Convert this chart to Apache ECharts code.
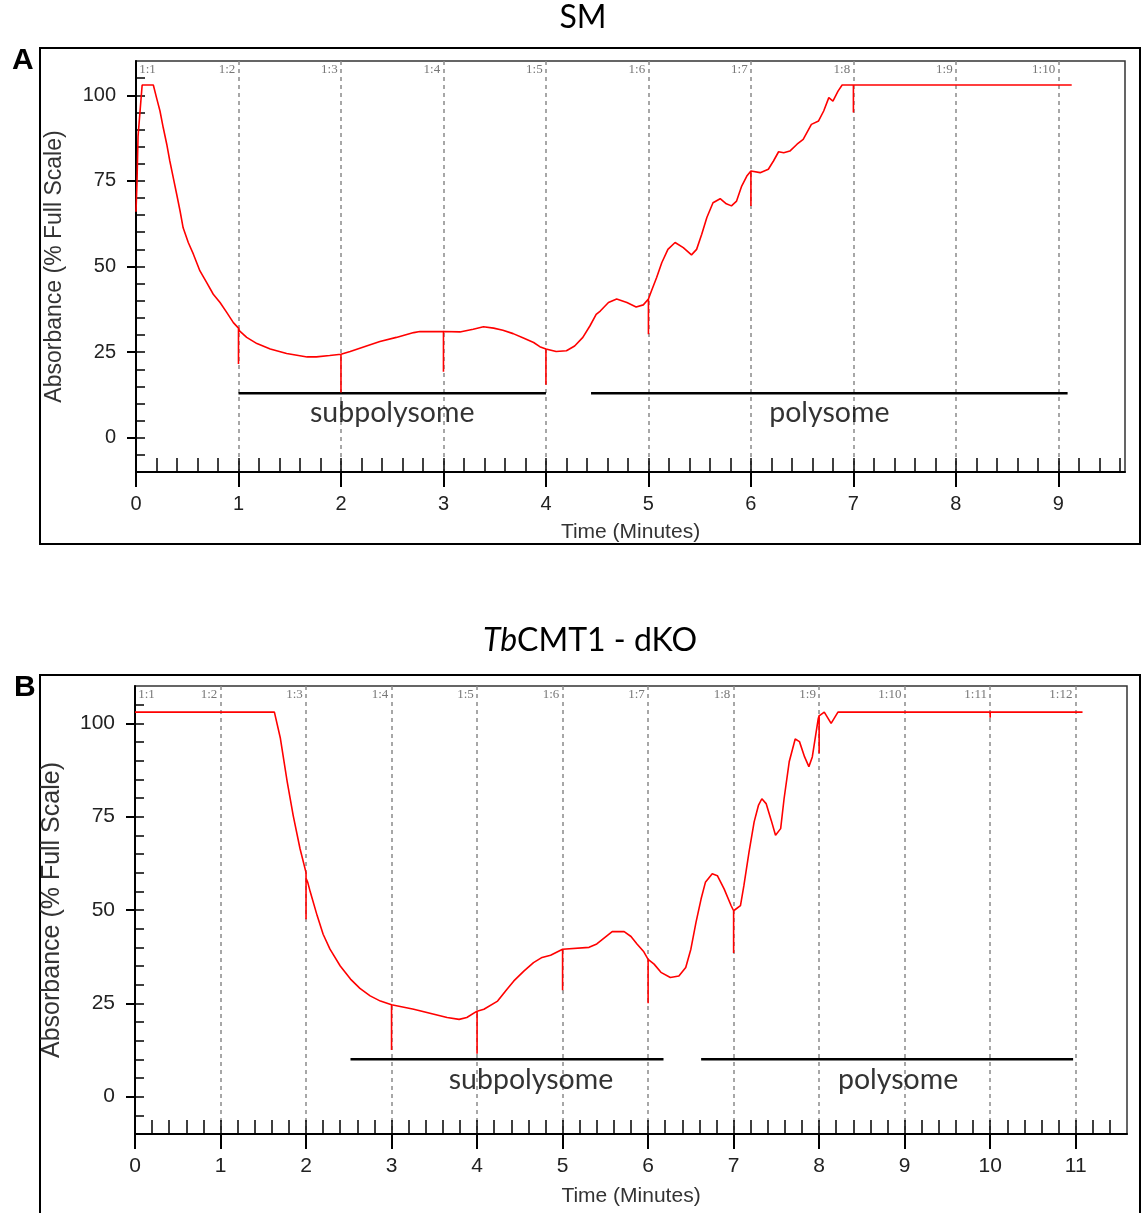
<!DOCTYPE html>
<html>
<head>
<meta charset="utf-8">
<title>Polysome profiles</title>
<script src="https://cdn.jsdelivr.net/npm/echarts@6/dist/echarts.min.js"></script>
<style>
  html, body { margin: 0; padding: 0; background: #fff; }
  #chart { width: 1143px; height: 1213px; }
</style>
</head>
<body>
<div id="chart"></div>
<script>
// Absorbance traces, [time (min), absorbance (% full scale)].
// Fraction-collector marks show up as short downward spikes at each fraction change.
const smTrace = [
  [0.00, 66], [0.01, 75], [0.02, 88], [0.04, 95.5], [0.06, 103], [0.169, 103],
  [0.20, 99.3], [0.234, 95.4], [0.266, 90.5], [0.30, 85.7], [0.33, 80.8], [0.364, 75.9],
  [0.397, 71.1], [0.43, 66.2], [0.46, 61.3], [0.51, 57.0], [0.56, 53.6], [0.624, 48.7],
  [0.69, 45.3], [0.754, 41.9], [0.82, 39.5], [0.885, 36.6], [0.95, 33.6], [1.00, 32.0],
  [1.00, 21.5], [1.00, 32.0], [1.01, 31.2], [1.08, 29.3], [1.18, 27.5], [1.31, 25.9],
  [1.47, 24.6], [1.67, 23.6], [1.76, 23.6], [1.89, 24.0], [2.00, 24.4], [2.00, 13.2],
  [2.00, 24.4], [2.09, 25.2], [2.22, 26.5], [2.38, 28.1], [2.54, 29.3], [2.71, 30.7],
  [2.77, 31.0], [3.00, 31.0], [3.00, 19.3], [3.00, 31.0], [3.16, 30.9], [3.29, 31.7],
  [3.39, 32.4], [3.49, 32.0], [3.58, 31.4], [3.68, 30.4], [3.78, 29.1], [3.88, 27.8],
  [3.94, 26.6], [4.00, 25.9], [4.00, 15.5], [4.00, 25.9], [4.10, 25.2], [4.20, 25.4],
  [4.28, 26.8], [4.36, 29.3], [4.43, 32.7], [4.49, 36.0], [4.53, 37.0], [4.61, 39.5],
  [4.69, 40.5], [4.79, 39.5], [4.88, 38.2], [4.95, 38.8], [5.00, 40.5], [5.00, 30.2],
  [5.00, 40.5], [5.03, 42.9], [5.08, 46.8], [5.13, 51.1], [5.19, 55.0], [5.26, 57.0],
  [5.34, 55.5], [5.42, 53.4], [5.47, 55.0], [5.52, 59.4], [5.57, 64.3], [5.63, 68.6],
  [5.70, 69.8], [5.76, 68.3], [5.81, 67.7], [5.86, 69.1], [5.91, 73.5], [5.96, 76.4],
  [6.00, 77.9], [6.00, 67.7], [6.00, 77.9], [6.09, 77.4], [6.17, 78.4], [6.22, 80.8],
  [6.27, 83.5], [6.32, 83.2], [6.38, 83.7], [6.45, 85.7], [6.51, 87.1], [6.59, 91.5],
  [6.66, 92.5], [6.71, 95.4], [6.76, 99.3], [6.80, 98.3], [6.85, 101.2], [6.89, 103],
  [7.00, 103], [7.00, 95.0], [7.00, 103], [9.13, 103]
];

const dkoTrace = [
  [0.00, 103], [1.63, 103], [1.70, 96.0], [1.78, 84.3], [1.85, 75.3], [1.93, 66.4],
  [2.00, 60.0], [2.00, 47.5], [2.00, 58.5], [2.02, 57.4], [2.05, 54.8], [2.13, 48.5],
  [2.20, 43.5], [2.28, 39.5], [2.40, 35.0], [2.52, 31.5], [2.63, 29.0], [2.75, 27.0],
  [2.87, 25.6], [3.00, 24.6], [3.00, 12.5], [3.00, 24.6], [3.26, 23.4], [3.46, 22.3],
  [3.65, 21.2], [3.79, 20.7], [3.88, 21.2], [4.00, 22.9], [4.00, 11.5], [4.00, 22.9],
  [4.08, 23.4], [4.24, 25.6], [4.35, 28.8], [4.43, 31.0], [4.55, 33.7], [4.66, 35.9],
  [4.76, 37.3], [4.86, 37.9], [5.00, 39.5], [5.00, 28.5], [5.00, 39.5], [5.02, 40.0],
  [5.31, 40.0], [5.40, 40.9], [5.58, 44.2], [5.72, 44.2], [5.80, 42.9], [5.87, 40.9],
  [5.95, 38.8], [6.00, 36.8], [6.00, 25.0], [6.00, 36.8], [6.07, 35.5], [6.15, 33.3],
  [6.26, 31.9], [6.36, 32.3], [6.44, 34.6], [6.50, 39.5], [6.56, 46.7], [6.62, 53.0],
  [6.67, 57.4], [6.75, 59.7], [6.81, 59.2], [6.89, 55.6], [6.97, 51.2], [7.00, 49.8],
  [7.00, 38.5], [7.00, 49.8], [7.08, 51.2], [7.12, 56.5], [7.18, 65.5], [7.24, 73.6],
  [7.29, 78.0], [7.33, 79.8], [7.38, 78.5], [7.44, 74.0], [7.49, 70.0], [7.55, 71.8],
  [7.59, 79.8], [7.65, 89.7], [7.72, 95.8], [7.77, 95.1], [7.83, 91.0], [7.88, 88.4],
  [7.92, 91.0], [7.96, 96.9], [7.99, 101.3], [8.00, 102], [8.00, 92.0], [8.00, 102],
  [8.06, 103], [8.14, 100], [8.22, 103], [10.00, 103], [10.00, 101.5], [10.00, 103],
  [11.08, 103]
];

// Axis ticks and labels
const smTimeTicks = [0, 1, 2, 3, 4, 5, 6, 7, 8, 9];
const dkoTimeTicks = [0, 1, 2, 3, 4, 5, 6, 7, 8, 9, 10, 11];
const absTicks = [0, 25, 50, 75, 100];
const smFractions = ['1:1', '1:2', '1:3', '1:4', '1:5', '1:6', '1:7', '1:8', '1:9', '1:10'];
const dkoFractions = ['1:1', '1:2', '1:3', '1:4', '1:5', '1:6', '1:7', '1:8', '1:9', '1:10', '1:11', '1:12'];

// Pooled fraction ranges (minutes) and the level of their bracket bars
const smRegions = [
  { name: 'subpolysome', from: 1.0, to: 4.0, level: 13 },
  { name: 'polysome', from: 4.44, to: 9.09, level: 13 }
];
const dkoRegions = [
  { name: 'subpolysome', from: 2.52, to: 6.18, level: 10 },
  { name: 'polysome', from: 6.62, to: 10.97, level: 10 }
];

// Minor tick positions: every 0.2 min on time, every 5 % on absorbance
function steps(from, to, step) {
  const out = [];
  const n = Math.round((to - from) / step);
  for (let i = 0; i <= n; i++) out.push(Math.round((from + i * step) * 1000) / 1000);
  return out;
}
const absMinorTicks = steps(-5, 105, 5);

const AXIS_FONT = '"Liberation Sans", Arial, sans-serif';
const TEXT_FONT = 'Lato, "Noto Sans", sans-serif';
const FRACTION_FONT = '"Liberation Serif", "DejaVu Serif", serif';

const panels = [
  {
    trace: smTrace, timeTicks: smTimeTicks, fractions: smFractions, regions: smRegions,
    xMax: 9.65, minorX: steps(0, 9.6, 0.2),
    grid: { left: 136, top: 61, right: 18, bottom: 741 },
    tickFont: 20, yNameFont: 23, xNameFont: 21, yNameGap: 70, xNameGap: 50,
    labelShift: [0, 0]
  },
  {
    trace: dkoTrace, timeTicks: dkoTimeTicks, fractions: dkoFractions, regions: dkoRegions,
    xMax: 11.6, minorX: steps(0, 11.4, 0.2),
    grid: { left: 135, top: 686, right: 16, bottom: 79 },
    tickFont: 21, yNameFont: 25, xNameFont: 21, yNameGap: 70, xNameGap: 52,
    labelShift: [24, 11]
  }
];

const option = {
  animation: false,
  backgroundColor: '#ffffff',
  title: [
    {
      text: 'SM', left: 583, top: 2, textAlign: 'center', padding: 0,
      textStyle: { fontFamily: TEXT_FONT, fontSize: 32, fontWeight: 'normal', color: '#000' }
    },
    {
      text: '{i|Tb}CMT1 - dKO', left: 590, top: 625, textAlign: 'center', padding: 0,
      textStyle: {
        fontFamily: TEXT_FONT, fontSize: 32, fontWeight: 'normal', color: '#000',
        rich: { i: { fontFamily: TEXT_FONT, fontSize: 32, fontStyle: 'italic', color: '#000' } }
      }
    }
  ],
  grid: [],
  xAxis: [],
  yAxis: [],
  series: [],
  graphic: [
    { type: 'rect', z: -1, shape: { x: 40, y: 48, width: 1100, height: 496 },
      style: { fill: 'none', stroke: '#000', lineWidth: 2 } },
    { type: 'rect', z: -1, shape: { x: 40, y: 675, width: 1100, height: 600 },
      style: { fill: 'none', stroke: '#000', lineWidth: 2 } },
    { type: 'text', x: 12, y: 61,
      style: { text: 'A', font: 'bold 30px "Liberation Sans", Arial, sans-serif', fill: '#000', textVerticalAlign: 'middle' } },
    { type: 'text', x: 14, y: 688,
      style: { text: 'B', font: 'bold 30px "Liberation Sans", Arial, sans-serif', fill: '#000', textVerticalAlign: 'middle' } }
  ]
};

panels.forEach((p, gi) => {
  option.grid.push(Object.assign({
    show: true, backgroundColor: '#ffffff', borderColor: '#333', borderWidth: 1.5
  }, p.grid));

  const xBase = option.xAxis.length;
  const yBase = option.yAxis.length;
  const xCommon = { type: 'value', gridIndex: gi, min: 0, max: p.xMax };
  const yCommon = { type: 'value', gridIndex: gi, min: -10, max: 110 };

  // time axis: line, major ticks, labels and dashed fraction grid
  option.xAxis.push(Object.assign({}, xCommon, {
    position: 'bottom', interval: 1,
    name: 'Time (Minutes)', nameLocation: 'middle', nameGap: p.xNameGap,
    nameTextStyle: { fontFamily: AXIS_FONT, fontSize: p.xNameFont, color: '#333' },
    axisLine: { show: true, onZero: false, lineStyle: { color: '#000', width: 2 } },
    axisTick: { show: true, customValues: p.timeTicks, inside: false, length: 15, lineStyle: { color: '#000', width: 2 } },
    axisLabel: { show: true, customValues: p.timeTicks, margin: 22, fontFamily: AXIS_FONT, fontSize: p.tickFont, color: '#222' },
    splitLine: { show: true, lineStyle: { color: '#8a8a8a', width: 1.5, type: [4, 4] } }
  }));
  // time axis: minor ticks
  option.xAxis.push(Object.assign({}, xCommon, {
    position: 'bottom',
    axisLine: { show: false, onZero: false },
    axisTick: { show: true, customValues: p.minorX, inside: true, length: 14, lineStyle: { color: '#000', width: 1.5 } },
    axisLabel: { show: false },
    splitLine: { show: false }
  }));
  // fraction numbers along the top (left of each fraction line)
  option.xAxis.push(Object.assign({}, xCommon, {
    position: 'top',
    axisLine: { show: false, onZero: false },
    axisTick: { show: false },
    axisLabel: {
      show: true, inside: true, margin: 2, align: 'right', verticalAlign: 'top',
      customValues: p.timeTicks.slice(1),
      formatter: v => p.fractions[Math.round(v)] + ' ',
      fontFamily: FRACTION_FONT, fontSize: 13, color: '#777'
    },
    splitLine: { show: false }
  }));
  // first fraction number sits just inside the left axis
  option.xAxis.push(Object.assign({}, xCommon, {
    position: 'top',
    axisLine: { show: false, onZero: false },
    axisTick: { show: false },
    axisLabel: {
      show: true, inside: true, margin: 2, align: 'left', verticalAlign: 'top',
      customValues: [p.timeTicks[0]],
      formatter: v => ' ' + p.fractions[Math.round(v)],
      fontFamily: FRACTION_FONT, fontSize: 13, color: '#777'
    },
    splitLine: { show: false }
  }));

  // absorbance axis: line, major ticks, labels
  option.yAxis.push(Object.assign({}, yCommon, {
    position: 'left',
    name: 'Absorbance (% Full Scale)', nameLocation: 'middle', nameRotate: 90, nameGap: p.yNameGap,
    nameTextStyle: { fontFamily: AXIS_FONT, fontSize: p.yNameFont, color: '#333' },
    axisLine: { show: true, onZero: false, lineStyle: { color: '#000', width: 2 } },
    axisTick: { show: true, customValues: absTicks, inside: false, length: 9, lineStyle: { color: '#000', width: 2 } },
    axisLabel: { show: true, customValues: absTicks, margin: 20, fontFamily: AXIS_FONT, fontSize: p.tickFont, color: '#222' },
    splitLine: { show: false }
  }));
  // absorbance axis: minor ticks
  option.yAxis.push(Object.assign({}, yCommon, {
    position: 'left',
    axisLine: { show: false, onZero: false },
    axisTick: { show: true, customValues: absMinorTicks, inside: true, length: 9, lineStyle: { color: '#000', width: 1.5 } },
    axisLabel: { show: false },
    splitLine: { show: false }
  }));

  // absorbance trace
  option.series.push({
    type: 'line', xAxisIndex: xBase, yAxisIndex: yBase, data: p.trace,
    showSymbol: false, symbol: 'none', smooth: false, z: 5,
    lineStyle: { color: '#ff0000', width: 1.6 }
  });

  // bracket bars for pooled fractions
  p.regions.forEach(r => {
    option.series.push({
      type: 'line', xAxisIndex: xBase, yAxisIndex: yBase,
      data: [[r.from, r.level], [r.to, r.level]],
      showSymbol: false, symbol: 'none', z: 4,
      lineStyle: { color: '#000', width: 2.5 }
    });
  });

  // bracket captions, centred under each bar
  option.series.push({
    type: 'scatter', xAxisIndex: xBase, yAxisIndex: yBase, z: 6,
    symbolSize: 1, itemStyle: { color: 'rgba(0,0,0,0)' },
    data: p.regions.map((r, i) => ({
      name: r.name,
      value: [(r.from + r.to) / 2, r.level],
      label: { offset: [p.labelShift[i], 0] }
    })),
    label: {
      show: true, position: 'bottom', distance: 5, formatter: '{b}',
      fontFamily: TEXT_FONT, fontSize: 28.5, color: '#000'
    }
  });
});

const chart = echarts.init(document.getElementById('chart'), null, { renderer: 'canvas' });
chart.setOption(option);
</script>
</body>
</html>
